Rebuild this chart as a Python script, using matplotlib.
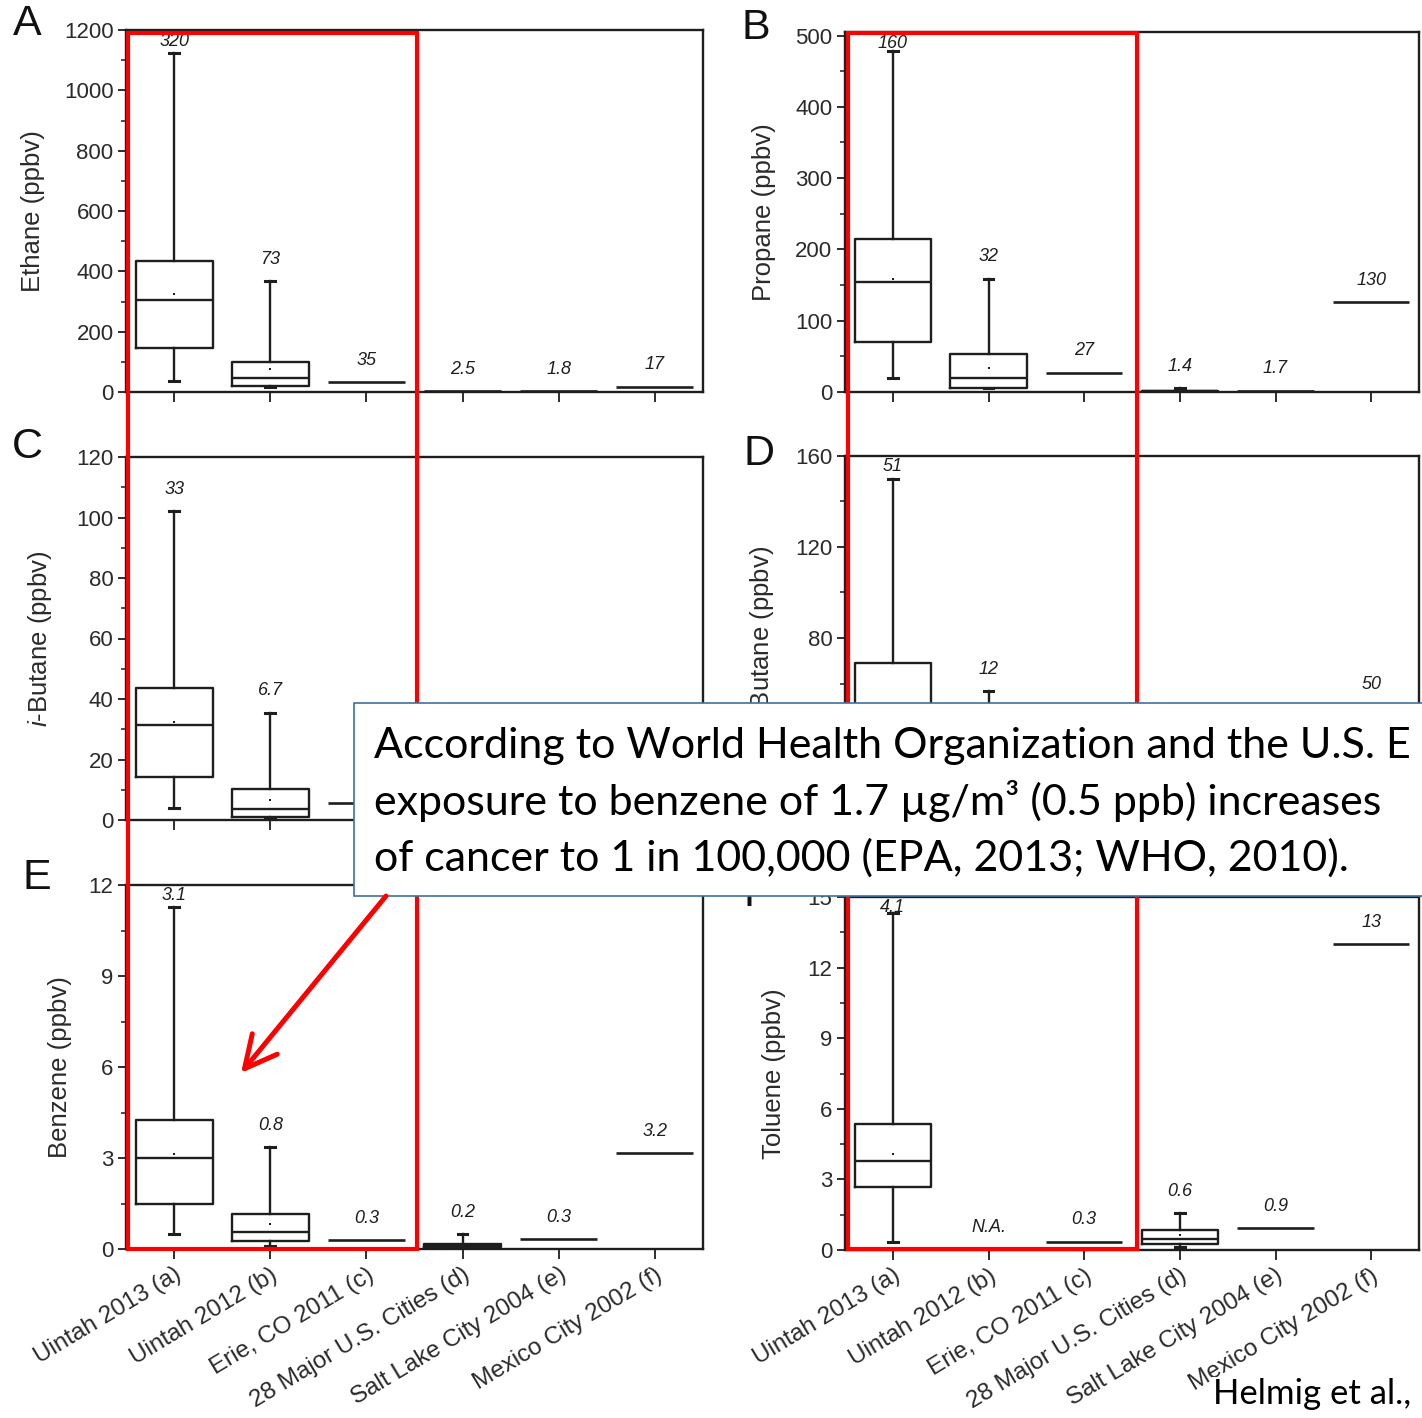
import matplotlib
matplotlib.use("Agg")
import matplotlib.pyplot as plt
from matplotlib.patches import Rectangle, FancyArrowPatch
from matplotlib.ticker import MultipleLocator

plt.rcParams['font.family'] = ['Liberation Sans', 'DejaVu Sans']
plt.rcParams['mathtext.fontset'] = 'custom'
plt.rcParams['mathtext.rm'] = 'Liberation Sans'
plt.rcParams['mathtext.it'] = 'Liberation Sans:italic'

sites = ["Uintah 2013 (a)", "Uintah 2012 (b)", "Erie, CO 2011 (c)",
         "28 Major U.S. Cities (d)", "Salt Lake City 2004 (e)", "Mexico City 2002 (f)"]

# box = (whislo, q1, median, q3, whishi, mean); a single number = one reported value; None = nothing drawn
ethane = [(36, 146, 305, 435, 1125, 325), (16, 20, 46, 99, 367, 75), 33, 2.5, 1.8, 17]
ethane_lab = ["320", "73", "35", "2.5", "1.8", "17"]
propane = [(19, 70, 154, 214, 478, 159), (5, 6, 19, 54, 159, 33), 27, (0, 0.5, 1, 2, 5, 1.4), 1.7, 126]
propane_lab = ["160", "32", "27", "1.4", "1.7", "130"]
ibutane = [(3.9, 14.3, 31.4, 43.8, 102, 32.5), (0.5, 1.1, 3.5, 10.1, 35.5, 6.6), 5.5, None, None, None]
ibutane_lab = ["33", "6.7", "", "", "", ""]
nbutane = [(6, 22, 45, 69, 150, 51), (1, 3, 8, 20, 56.5, 12), None, None, None, 50]
nbutane_lab = ["51", "12", "", "", "", "50"]
benzene = [(0.49, 1.5, 2.99, 4.24, 11.26, 3.13), (0.1, 0.27, 0.55, 1.14, 3.36, 0.82), 0.29,
           (0, 0.06, 0.12, 0.18, 0.49, 0.15), 0.32, 3.16]
benzene_lab = ["3.1", "0.8", "0.3", "0.2", "0.3", "3.2"]
toluene = [(0.36, 2.67, 3.8, 5.34, 14.33, 4.1), None, 0.34, (0.12, 0.26, 0.48, 0.87, 1.57, 0.63), 0.92, 12.99]
toluene_lab = ["4.1", "N.A.", "0.3", "0.6", "0.9", "13"]

note = ["According to World Health Organization and the U.S. E",
        "exposure to benzene of 1.7 \u00b5g/m\u00b3 (0.5 ppb) increases",
        "of cancer to 1 in 100,000 (EPA, 2013; WHO, 2010)."]

W, H = 1422, 1418
ink = '#1e1e1e'
lw = 1.7

fig = plt.figure(figsize=(W / 100, H / 100), dpi=100)


def draw_panel(vals, labels, ylabel, ymax, major, minor, box, labx, letter, letpos, bottom_labels):
    l, t, r, b = box
    ax = fig.add_axes([l / W, 1 - b / H, (r - l) / W, (b - t) / H])
    stats, pos = [], []
    for i, v in enumerate(vals):
        if isinstance(v, tuple):
            lo, q1, med, q3, hi, mean = v
            stats.append(dict(whislo=lo, q1=q1, med=med, q3=q3, whishi=hi, mean=mean, fliers=[]))
            pos.append(i + 1)
        elif v is not None:
            ax.hlines(v, i + 0.6, i + 1.4, color=ink, lw=lw + 0.2)
    ax.bxp(stats, positions=pos, widths=0.8, capwidths=0.1, showmeans=True, showfliers=False,
           manage_ticks=False,
           boxprops=dict(color=ink, lw=lw), whiskerprops=dict(color=ink, lw=lw),
           capprops=dict(color=ink, lw=lw + 0.5), medianprops=dict(color=ink, lw=lw),
           meanprops=dict(marker='s', markersize=2, markerfacecolor=ink, markeredgewidth=0))
    # value labels sit ~22 px above the top of each mark
    dpp = ymax / (b - t)
    for i, (v, s) in enumerate(zip(vals, labels)):
        if not s:
            continue
        top = v[4] if isinstance(v, tuple) else (v or 0)
        y = min(top + 22 * dpp, ymax - 11 * dpp)
        ax.text(i + 1, y, s, ha='center', va='center', style='italic', fontsize=13, color=ink)
    ax.set_xlim(0.5, 6.5)
    ax.set_ylim(0, ymax)
    ax.set_xticks(range(1, 7))
    ax.yaxis.set_major_locator(MultipleLocator(major))
    ax.yaxis.set_minor_locator(MultipleLocator(minor))
    ax.tick_params(which='both', direction='out', top=False, right=False, color=ink, labelcolor='#2a2a2a')
    ax.tick_params(axis='y', which='major', length=6, width=1.3, labelsize=16, pad=3)
    ax.tick_params(axis='y', which='minor', length=3.5, width=1.1)
    ax.tick_params(axis='x', which='major', length=7, width=1.3)
    ax.tick_params(axis='x', which='minor', bottom=False)
    if bottom_labels:
        ax.set_xticklabels(sites, rotation=31, ha='right', va='top', rotation_mode='anchor', fontsize=17.5)
    else:
        ax.set_xticklabels([])
    for sp in ax.spines.values():
        sp.set_color(ink)
        sp.set_linewidth(1.7)
    ax.set_ylabel(ylabel, fontsize=18.5, color='#2a2a2a')
    ax.yaxis.set_label_coords(labx, 0.5)
    fig.text(letpos[0] / W, 1 - letpos[1] / H, letter, fontsize=31, ha='center', va='center', color='#111111')
    return ax


draw_panel(ethane, ethane_lab, "Ethane (ppbv)", 1200, 200, 100, (126, 30, 703, 392), -0.140, "A", (27, 24), False)
draw_panel(propane, propane_lab, "Propane (ppbv)", 505, 100, 50, (845, 32, 1419, 392), -0.120, "B", (756, 28), False)
draw_panel(ibutane, ibutane_lab, r"$\mathit{i}$-Butane (ppbv)", 120, 20, 10, (126, 457, 703, 820), -0.125, "C", (27, 447), False)
draw_panel(nbutane, nbutane_lab, r"$\mathit{n}$-Butane (ppbv)", 160, 40, 20, (845, 456, 1419, 820), -0.120, "D", (759, 454), False)
draw_panel(benzene, benzene_lab, "Benzene (ppbv)", 12, 3, 1.5, (126, 885, 703, 1249), -0.094, "E", (37, 878), True)
draw_panel(toluene, toluene_lab, "Toluene (ppbv)", 15, 3, 1.5, (845, 897, 1419, 1250), -0.103, "F", (757, 895), True)

# overlay in pixel coordinates: highlight frames, note box, arrow, citation
ov = fig.add_axes([0, 0, 1, 1], zorder=10)
ov.set_xlim(0, W)
ov.set_ylim(H, 0)
ov.axis('off')
ov.patch.set_alpha(0)
for x0, x1 in [(128, 417), (848, 1137)]:
    ov.add_patch(Rectangle((x0, 33), x1 - x0, 1249 - 33, fill=False, ec='#ff0000', lw=3, zorder=1))
ov.add_patch(Rectangle((354, 703), 1200, 193, fc='white', ec='#41719c', lw=1.2, zorder=2))
for k, line in enumerate(note):
    ov.text(374, 758 + 56.5 * k, line, fontsize=31, family='Lato', va='baseline', ha='left',
            color='black', zorder=3)
ov.add_patch(FancyArrowPatch((386, 896), (241, 1073), arrowstyle='->,head_length=1.15,head_width=0.58',
                             mutation_scale=20, color='#ff0000', lw=3.6, shrinkA=0, shrinkB=0, zorder=3))
ov.text(1213, 1404, "Helmig et al.,", fontsize=25, family='Lato', va='baseline', ha='left', color='black',
        zorder=3, bbox=dict(fc='white', ec='none', pad=1))

fig.savefig("out.png", dpi=100)
